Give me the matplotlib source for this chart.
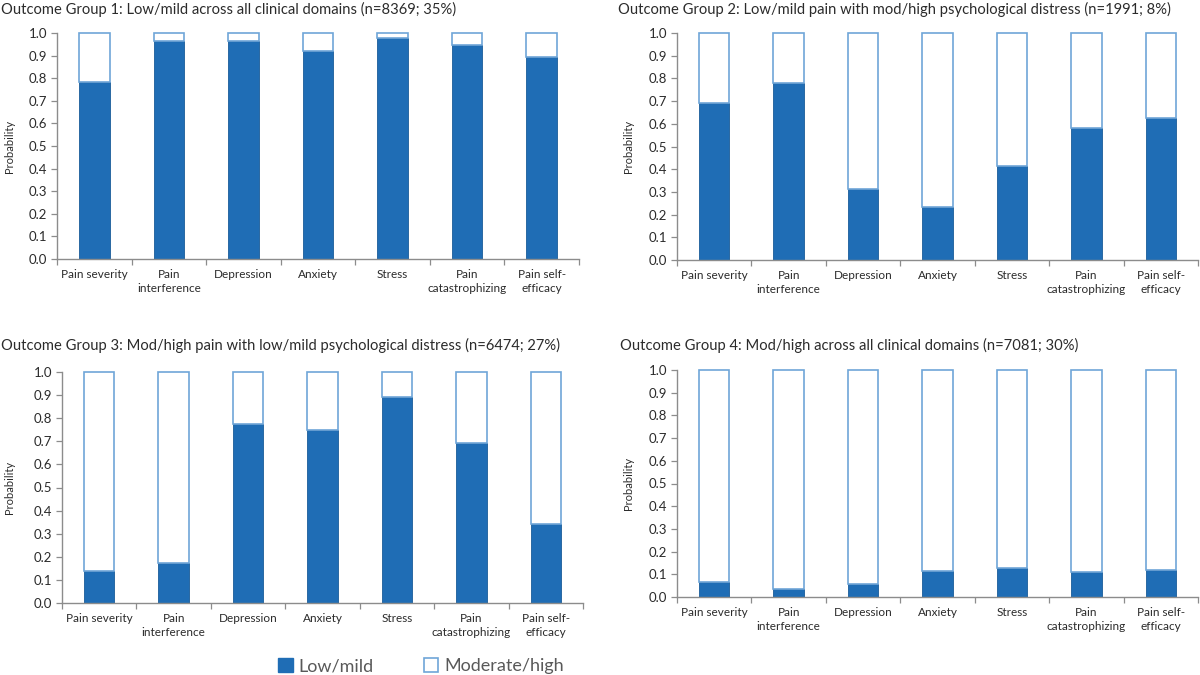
import numpy as np
import matplotlib
matplotlib.use("Agg")
from matplotlib import pyplot as plt
from matplotlib.patches import Patch

plt.rcParams["font.family"] = ["Lato", "DejaVu Sans"]

# Domains shown on every panel
domains = ["Pain severity", "Pain\ninterference", "Depression", "Anxiety",
           "Stress", "Pain\ncatastrophizing", "Pain self-\nefficacy"]

# Probability of low/mild per domain
group1 = [0.785, 0.965, 0.965, 0.920, 0.980, 0.948, 0.896]
group2 = [0.690, 0.778, 0.312, 0.232, 0.415, 0.582, 0.625]
group3 = [0.138, 0.175, 0.776, 0.748, 0.892, 0.692, 0.340]
group4 = [0.065, 0.037, 0.058, 0.115, 0.127, 0.112, 0.120]

titles = [
    "Outcome Group 1: Low/mild across all clinical domains (n=8369; 35%)",
    "Outcome Group 2: Low/mild pain with mod/high psychological distress (n=1991; 8%)",
    "Outcome Group 3: Mod/high pain with low/mild psychological distress (n=6474; 27%)",
    "Outcome Group 4: Mod/high across all clinical domains (n=7081; 30%)",
]

blue = "#1f6db5"
light_edge = "#6fa6d8"
text_col = "#2b2b2b"
axis_col = "#8c8c8c"

fig = plt.figure(figsize=(12, 6.75), dpi=100)

# axes boxes in pixels: left, top, right, bottom
boxes = [(57, 33, 579, 259), (677, 33, 1198, 260),
         (62, 372, 583, 603), (677, 370, 1198, 597)]
title_pos = [(1, 9), (618, 9), (1, 345), (620, 345)]
ylabel_x = [15, 634, 15, 634]
groups = [group1, group2, group3, group4]

x = np.arange(len(domains))
for vals, box, ttl, tp, lx in zip(groups, boxes, titles, title_pos, ylabel_x):
    l, t, r, b = box
    ax = fig.add_axes([l / 1200, 1 - b / 675, (r - l) / 1200, (b - t) / 675])
    vals = np.array(vals)
    ax.bar(x, vals, width=0.41, color=blue, edgecolor="#1a5c99", linewidth=0.6, zorder=2)
    ax.bar(x, 1 - vals, bottom=vals, width=0.41, color="white",
           edgecolor=light_edge, linewidth=1.2, zorder=2, clip_on=False)
    ax.set_xlim(-0.5, len(domains) - 0.5)
    ax.set_ylim(0, 1.0)
    ax.set_yticks(np.arange(0, 1.01, 0.1))
    ax.set_yticklabels([f"{v:.1f}" for v in np.arange(0, 1.01, 0.1)])
    ax.set_xticks(np.arange(-0.5, len(domains), 1.0))
    ax.set_xticklabels([])
    ax.set_xticks(x, minor=True)
    ax.set_xticklabels(domains, minor=True, fontsize=8.5, color=text_col, linespacing=1.35)
    ax.tick_params(axis="x", which="major", length=4, width=0.9, color=axis_col, direction="out")
    ax.tick_params(axis="x", which="minor", length=0, pad=7)
    ax.tick_params(axis="y", length=4, width=0.9, color=axis_col, labelsize=9.5, labelcolor=text_col, pad=3)
    for s in ["top", "right"]:
        ax.spines[s].set_visible(False)
    for s in ["left", "bottom"]:
        ax.spines[s].set_color(axis_col)
        ax.spines[s].set_linewidth(1.0)
    ax.set_ylabel("Probability", fontsize=8, color=text_col)
    ax.yaxis.set_label_coords((lx - l) / (r - l), 0.5)
    fig.text(tp[0] / 1200, 1 - tp[1] / 675, ttl, fontsize=10.6, color=text_col,
             ha="left", va="center")

handles = [Patch(facecolor=blue, edgecolor=blue, label="Low/mild"),
           Patch(facecolor="white", edgecolor=light_edge, linewidth=1.2, label="Moderate/high")]
fig.legend(handles=handles, loc="center", bbox_to_anchor=(421 / 1200, 1 - 666 / 675),
           ncol=2, frameon=False, fontsize=13, handlelength=0.8, handleheight=0.8,
           handletextpad=0.3, columnspacing=2.8, labelcolor="#595959")

fig.savefig("out.png", dpi=100)
